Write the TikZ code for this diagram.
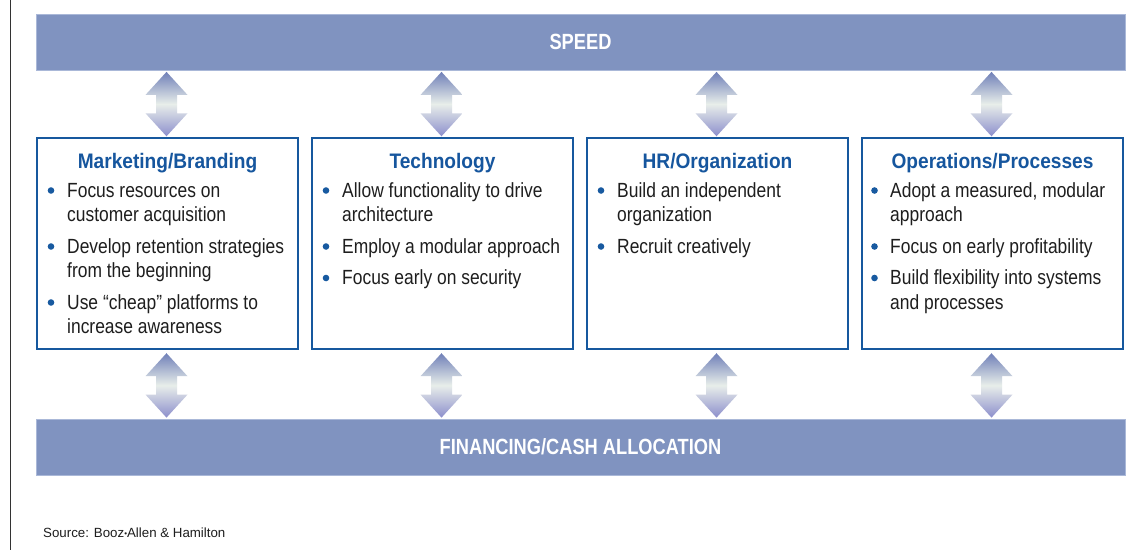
\documentclass[tikz,border=0pt]{standalone}
\usepackage{fontspec}
\setmainfont{Liberation Sans}
\newfontfamily\bodyf[FakeStretch=0.85]{Liberation Sans}
\newfontfamily\titlef[FakeStretch=0.91]{Liberation Sans}
\newfontfamily\barf[FakeStretch=0.83]{Liberation Sans}
\usetikzlibrary{calc}
\definecolor{barc}{RGB}{128,147,192}
\definecolor{baredge}{RGB}{170,184,216}
\definecolor{boxc}{RGB}{22,88,158}
\definecolor{titlec}{RGB}{22,86,158}
\definecolor{bulc}{RGB}{24,90,160}
\definecolor{bodyc}{RGB}{30,30,30}
\definecolor{arrtop}{RGB}{112,128,184}
\definecolor{arrmid}{RGB}{232,238,234}
\definecolor{arrbot}{RGB}{140,142,204}
\newcommand\dbarrow[2]{%
  \path[arrowfill] let \p1=#1, \p2=#2 in
    (\x1,\y1) -- (\x1+21pt,\y1-23pt) -- (\x1+10.5pt,\y1-23pt) --
    (\x1+10.5pt,\y2+23pt) -- (\x1+21pt,\y2+23pt) -- (\x1,\y2) --
    (\x1-21pt,\y2+23pt) -- (\x1-10.5pt,\y2+23pt) --
    (\x1-10.5pt,\y1-23pt) -- (\x1-21pt,\y1-23pt) -- cycle;}
\begin{document}
\begin{tikzpicture}[x=1pt,y=-1pt,
  bar/.style={rectangle, fill=barc, draw=baredge, line width=0.8pt,
    minimum width=1089pt, minimum height=56pt, inner sep=0,
    text=white, font=\barf\bfseries\fontsize{22}{22}\selectfont},
  catbox/.style={rectangle, draw=boxc, line width=2.4pt, fill=white,
    minimum width=261pt, minimum height=211pt, inner sep=0},
  ttl/.style={anchor=base, inner sep=0, text=titlec,
    font=\titlef\bfseries\fontsize{21}{21}\selectfont},
  ln/.style={anchor=base west, inner sep=0, text=bodyc,
    font=\bodyf\fontsize{20.5}{24}\selectfont},
  bul/.style={fill=bulc},
  arrowfill/.style={top color=arrtop, bottom color=arrbot, middle color=arrmid}
]
\useasboundingbox (0,0) rectangle (1142,550);
\fill[white] (0,0) rectangle (1142,550);
\draw[line width=1pt, black!80] (10,0) -- (10,550);

% bars
\node[bar] (sp) at (580.5,42) {SPEED};
\node[bar] (fin) at (580.5,447) {FINANCING/CASH ALLOCATION};

% boxes
\node[catbox] (b1) at (167.5,243.5) {};
\node[catbox] (b2) at (442.5,243.5) {};
\node[catbox] (b3) at (717.5,243.5) {};
\node[catbox] (b4) at (992.5,243.5) {};

% arrows
\foreach \b in {b1,b2,b3,b4}{
  \dbarrow{($(\b.north |- sp.south)+(-1,1.5)$)}{($(\b.north)+(-1,-0.5)$)}
  \dbarrow{($(\b.south)+(-1,3)$)}{($(\b.south |- fin.north)+(-1,-1)$)}
}

% box 1
\node[ttl] (t1) at (167.5,168) {Marketing/Branding};
\node[ln] (m1a) at (67,197) {Focus resources on};
\node[ln] (m1b) at (67,221.5) {customer acquisition};
\node[ln] (m2a) at (67,253) {Develop retention strategies};
\node[ln] (m2b) at (67,277.5) {from the beginning};
\node[ln] (m3a) at (67,309) {Use “cheap” platforms to};
\node[ln] (m3b) at (67,333.5) {increase awareness};
\fill[bul] (51,190.5) circle (3.3);
\fill[bul] (51,246.5) circle (3.3);
\fill[bul] (51,302.5) circle (3.3);

% box 2
\node[ttl] (t2) at (442.5,168) {Technology};
\node[ln] (n1a) at (342,197) {Allow functionality to drive};
\node[ln] (n1b) at (342,221.5) {architecture};
\node[ln] (n2a) at (342,253) {Employ a modular approach};
\node[ln] (n3a) at (342,284.5) {Focus early on security};
\fill[bul] (326,190.5) circle (3.3);
\fill[bul] (326,246.5) circle (3.3);
\fill[bul] (326,278) circle (3.3);

% box 3
\node[ttl] (t3) at (717.5,168) {HR/Organization};
\node[ln] (h1a) at (617,197) {Build an independent};
\node[ln] (h1b) at (617,221.5) {organization};
\node[ln] (h2a) at (617,253) {Recruit creatively};
\fill[bul] (601,190.5) circle (3.3);
\fill[bul] (601,246.5) circle (3.3);

% box 4
\node[ttl] (t4) at (992.5,168) {Operations/Processes};
\node[ln] (o1a) at (890,197) {Adopt a measured, modular};
\node[ln] (o1b) at (890,221.5) {approach};
\node[ln] (o2a) at (890,253) {Focus on early profitability};
\node[ln] (o3a) at (890,284.5) {Build flexibility into systems};
\node[ln] (o3b) at (890,309) {and processes};
\fill[bul] (874.5,190.5) circle (3.3);
\fill[bul] (874.5,246.5) circle (3.3);
\fill[bul] (874.5,278) circle (3.3);

% source
\node[anchor=base west, inner sep=0, text=bodyc, font=\fontsize{13.3}{14}\selectfont]
  (src) at (43,537) {Source: Booz{\fontsize{8}{8}\selectfont\raisebox{1pt}{•}}Allen \& Hamilton};
\end{tikzpicture}
\end{document}
